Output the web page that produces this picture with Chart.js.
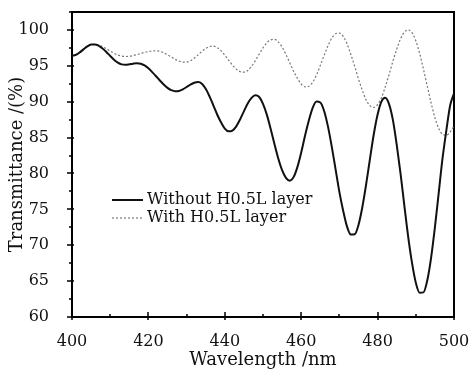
<!DOCTYPE html>
<html>
<head>
<meta charset="utf-8">
<script src="https://cdn.jsdelivr.net/npm/chart.js@4.4.0/dist/chart.umd.min.js"></script>
<style>
  html, body { margin: 0; padding: 0; background: #fff; }
</style>
</head>
<body>
<canvas id="chart1" width="474" height="371"></canvas>
<script>
var wavelengths = [400, 401, 402, 403, 404, 405, 406, 407, 408, 409,
  410, 411, 412, 413, 414, 415, 416, 417, 418, 419,
  420, 421, 422, 423, 424, 425, 426, 427, 428, 429,
  430, 431, 432, 433, 434, 435, 436, 437, 438, 439,
  440, 441, 442, 443, 444, 445, 446, 447, 448, 449,
  450, 451, 452, 453, 454, 455, 456, 457, 458, 459,
  460, 461, 462, 463, 464, 465, 466, 467, 468, 469,
  470, 471, 472, 473, 474, 475, 476, 477, 478, 479,
  480, 481, 482, 483, 484, 485, 486, 487, 488, 489,
  490, 491, 492, 493, 494, 495, 496, 497, 498, 499, 500];

// transmittance without the H0.5L layer (solid)
var withoutLayer = [96.40, 96.52, 96.86, 97.29, 97.70, 97.96, 97.98, 97.79, 97.42, 96.93,
  96.38, 95.86, 95.45, 95.20, 95.15, 95.21, 95.30, 95.35, 95.29, 95.05,
  94.65, 94.12, 93.55, 92.95, 92.40, 91.93, 91.61, 91.46, 91.50, 91.72,
  92.05, 92.39, 92.65, 92.75, 92.51, 91.81, 90.74, 89.49, 88.22, 87.14,
  86.26, 85.87, 85.98, 86.57, 87.53, 88.66, 89.74, 90.53, 90.89, 90.66,
  89.71, 88.20, 86.22, 84.10, 82.09, 80.46, 79.38, 79.00, 79.49, 80.89,
  82.92, 85.26, 87.38, 89.15, 90.02, 89.89, 88.71, 86.56, 83.74, 80.58,
  77.41, 74.78, 72.59, 71.48, 71.52, 72.83, 75.29, 78.47, 82.03, 85.46,
  88.21, 90.01, 90.55, 89.67, 87.46, 84.01, 80.02, 75.53, 71.21, 67.58,
  64.79, 63.39, 63.43, 65.09, 68.25, 72.48, 77.30, 82.13, 86.01, 89.51, 91.17];

// transmittance with the H0.5L layer (dotted)
var withLayer = [96.40, 96.52, 96.86, 97.29, 97.70, 97.96, 97.99, 97.88, 97.67, 97.39,
  97.07, 96.74, 96.51, 96.35, 96.30, 96.34, 96.43, 96.56, 96.72, 96.87,
  96.99, 97.08, 97.10, 97.02, 96.82, 96.54, 96.22, 95.91, 95.66, 95.52,
  95.52, 95.70, 96.06, 96.53, 97.01, 97.42, 97.68, 97.74, 97.55, 97.11,
  96.49, 95.78, 95.10, 94.54, 94.19, 94.11, 94.35, 94.92, 95.72, 96.63,
  97.50, 98.19, 98.61, 98.68, 98.34, 97.62, 96.59, 95.43, 94.25, 93.28,
  92.46, 92.08, 92.15, 92.71, 93.72, 95.05, 96.47, 97.77, 98.85, 99.47,
  99.57, 99.10, 98.08, 96.58, 94.94, 93.16, 91.59, 90.24, 89.45, 89.20,
  89.59, 90.55, 92.06, 93.78, 95.62, 97.30, 98.76, 99.68, 100.00, 99.62,
  98.49, 96.74, 94.55, 92.16, 89.84, 87.78, 86.28, 85.45, 85.34, 85.78, 86.60];

var seriesNames = ['Without H0.5L layer', 'With H0.5L layer'];
var xTicks = [400, 420, 440, 460, 480, 500];
var yTicks = [60, 65, 70, 75, 80, 85, 90, 95, 100];

var serif = "'DejaVu Serif', serif";
var frameLine = { display: true, color: '#000', width: 2 };

function toPoints(ys) {
  return ys.map(function (v, i) { return { x: wavelengths[i], y: v }; });
}

// tick marks and the legend inside the plot
var extras = {
  id: 'extras',
  afterDraw: function (chart) {
    var ctx = chart.ctx;
    var xs = chart.scales.x, ys = chart.scales.y;
    var l = ys.right, b = xs.top;
    ctx.save();
    ctx.setLineDash([]);
    ctx.strokeStyle = '#000';
    ctx.lineWidth = 1.5;
    ctx.beginPath();
    for (var i = 0; i < xTicks.length; i++) {
      var px = Math.round(xs.getPixelForValue(xTicks[i]));
      ctx.moveTo(px, b + 3);
      ctx.lineTo(px, b - 5);
      if (i < xTicks.length - 1) {
        var mx = Math.round(xs.getPixelForValue((xTicks[i] + xTicks[i + 1]) / 2));
        ctx.moveTo(mx, b);
        ctx.lineTo(mx, b - 3);
      }
    }
    for (var j = 0; j < yTicks.length; j++) {
      var py = Math.round(ys.getPixelForValue(yTicks[j]));
      ctx.moveTo(l - 5, py);
      ctx.lineTo(l + 2, py);
      var my = Math.round(ys.getPixelForValue(yTicks[j] + 2.5));
      ctx.moveTo(l - 3, my);
      ctx.lineTo(l, my);
    }
    ctx.stroke();

    // legend
    var lx = 112, ly = 200;
    chart.data.datasets.forEach(function (ds, k) {
      var y = ly + k * 18;
      ctx.beginPath();
      ctx.strokeStyle = ds.borderColor;
      ctx.lineWidth = ds.borderWidth;
      ctx.setLineDash(ds.borderDash || []);
      ctx.moveTo(lx, y);
      ctx.lineTo(lx + 31, y);
      ctx.stroke();
      ctx.setLineDash([]);
      ctx.fillStyle = '#111';
      ctx.font = '16px ' + serif;
      ctx.textBaseline = 'middle';
      ctx.textAlign = 'left';
      ctx.fillText(ds.label, lx + 35, y);
    });
    ctx.restore();
  }
};

var chart = new Chart('chart1', {
  type: 'line',
  data: {
    datasets: [
      {
        label: seriesNames[0],
        data: toPoints(withoutLayer),
        borderColor: '#111',
        borderWidth: 2,
        pointRadius: 0,
        cubicInterpolationMode: 'monotone'
      },
      {
        label: seriesNames[1],
        data: toPoints(withLayer),
        borderColor: '#777',
        borderWidth: 1.2,
        borderDash: [2, 2],
        pointRadius: 0,
        cubicInterpolationMode: 'monotone'
      }
    ]
  },
  options: {
    responsive: false,
    animation: false,
    devicePixelRatio: 1,
    layout: { padding: { top: 12, right: 20, left: 0, bottom: 0 } },
    plugins: {
      legend: { display: false },
      tooltip: { enabled: false }
    },
    scales: {
      x: {
        type: 'linear',
        min: 400,
        max: 500,
        afterBuildTicks: function (s) { s.ticks = xTicks.map(function (v) { return { value: v }; }); },
        afterFit: function (s) { s.height = 54; s.paddingLeft = 0; s.paddingRight = 0; },
        grid: { display: false },
        border: frameLine,
        ticks: { color: '#111', font: { family: serif, size: 16 }, padding: 7, maxRotation: 0 },
        title: { display: true, text: 'Wavelength /nm', color: '#111', font: { family: serif, size: 18 }, padding: 0 }
      },
      y: {
        min: 60,
        max: 102.5,
        afterBuildTicks: function (s) { s.ticks = yTicks.map(function (v) { return { value: v }; }); },
        afterFit: function (s) { s.width = 72; s.paddingTop = 0; s.paddingBottom = 0; },
        grid: { display: false },
        border: frameLine,
        ticks: { color: '#111', font: { family: serif, size: 16 }, padding: 15 },
        title: { display: true, text: 'Transmittance /(%)', color: '#111', font: { family: serif, size: 18 }, padding: { top: 7, bottom: 0 } }
      },
      xTop: {
        type: 'linear',
        position: 'top',
        min: 400,
        max: 500,
        afterFit: function (s) { s.height = 0; s.paddingLeft = 0; s.paddingRight = 0; },
        grid: { display: false, drawTicks: false },
        border: frameLine,
        ticks: { display: false }
      },
      yRight: {
        type: 'linear',
        position: 'right',
        min: 60,
        max: 102.5,
        afterFit: function (s) { s.width = 0; s.paddingTop = 0; s.paddingBottom = 0; },
        grid: { display: false, drawTicks: false },
        border: frameLine,
        ticks: { display: false }
      }
    }
  },
  plugins: [extras]
});
</script>
</body>
</html>
